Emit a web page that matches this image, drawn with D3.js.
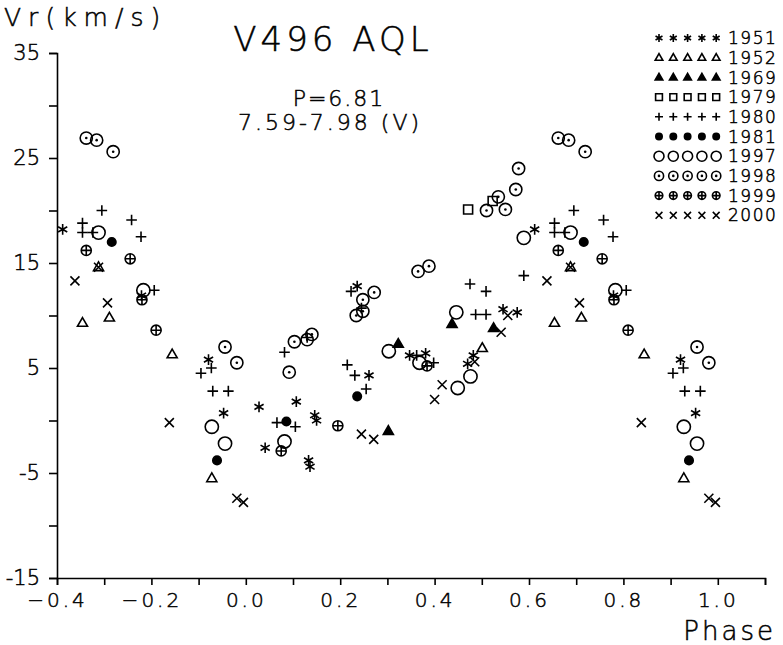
<!DOCTYPE html>
<html>
<head>
<meta charset="utf-8">
<script src="https://cdn.jsdelivr.net/npm/d3@7"></script>
<style>
  body { margin: 0; background: #fff; }
  svg { display: block; font-family: "DejaVu Sans", sans-serif; }
  text { font-weight: 200; fill: #000; stroke: #000; stroke-width: 0.5px; }
  .axis path, .axis line { stroke: #000; stroke-width: 1.6; }
</style>
</head>
<body>
<svg width="783" height="645"></svg>
<script>
var obs1951 = [[0.612,18.2],[0.779,11.9],[0.921,5.8],[0.953,0.7],[0.028,1.3],[0.041,-2.6],
  [0.107,1.8],[0.146,0.5],[0.150,0.0],[0.133,-3.8],[0.136,-4.4],[0.236,12.8],[0.261,4.3],
  [0.347,6.2],[0.381,6.4],[0.470,5.4],[0.482,6.2],[0.545,10.6],[0.575,10.3]];
var obs1952 = [[0.654,9.3],[0.688,14.6],[0.711,9.8],[0.844,6.3],[0.928,-5.5],[0.501,6.9]];
var obs1969 = [[0.302,-1.0],[0.323,7.3],[0.437,9.2],[0.525,8.8]];
var obs1979 = [[0.471,20.1],[0.523,20.9]];
var obs1980 = [[0.695,20.0],[0.654,18.8],[0.654,17.9],[0.676,17.9],[0.758,19.1],[0.778,17.5],
  [0.806,12.4],[0.905,4.5],[0.927,5.0],[0.930,2.8],[0.963,2.8],[0.066,-0.2],[0.082,6.5],
  [0.105,-0.6],[0.130,7.9],[0.215,5.3],[0.223,12.3],[0.231,4.3],[0.245,10.7],[0.255,3.0],
  [0.362,6.2],[0.398,5.5],[0.475,13.0],[0.487,10.1],[0.509,10.1],[0.509,12.3],[0.589,13.8]];
var obs1981 = [[0.716,17.0],[0.939,-3.8],[0.086,-0.1],[0.236,2.3]];
var obs1997 = [[0.688,17.9],[0.783,12.4],[0.928,-0.6],[0.956,-2.2],[0.082,-2.0],[0.303,6.6],
  [0.368,5.5],[0.446,10.3],[0.449,3.1],[0.476,4.2],[0.589,17.4]];
var obs1998 = [[0.662,26.9],[0.684,26.7],[0.719,25.6],[0.956,7.0],[0.981,5.5],[0.092,4.6],
  [0.103,7.5],[0.130,7.7],[0.140,8.2],[0.234,10.0],[0.248,10.4],[0.248,11.5],[0.272,12.2],
  [0.365,14.2],[0.388,14.7],[0.510,20.0],[0.535,21.3],[0.550,20.1],[0.572,22.0],[0.578,24.0]];
var obs1999 = [[0.662,16.2],[0.755,15.4],[0.780,11.5],[0.810,8.6],[0.075,-2.9],[0.195,-0.5],[0.384,5.2]];
var obs2000 = [[0.638,13.3],[0.688,14.6],[0.707,11.2],[0.838,-0.2],[0.981,-7.4],[0.995,-7.8],
  [0.245,-1.3],[0.271,-1.8],[0.400,2.0],[0.416,3.4],[0.485,5.6],[0.541,8.4],[0.555,10.0]];

var years   = ["1951","1952","1969","1979","1980","1981","1997","1998","1999","2000"];
var symbols = ["star","triangle","triangleFill","square","plus","dot","circle","circleDot","circlePlus","cross"];
var series  = [obs1951,obs1952,obs1969,obs1979,obs1980,obs1981,obs1997,obs1998,obs1999,obs2000];

var xTicks = d3.range(-4, 12).map(function(d) { return d / 10; });
var yTicks = d3.range(-15, 36, 5);
var yLabels = [-15, -5, 5, 15, 25, 35];

var svg = d3.select("svg");
var x = d3.scaleLinear().domain([-0.4, 1.1]).range([57, 765]),
    y = d3.scaleLinear().domain([-15, 35]).range([578, 53]);

// marker path, centred on 0,0, s = half size
function shape(type, s) {
  var p = d3.path(), k;
  switch (type) {
    case "star":
      for (k = 0; k < 3; k++) {
        var a = Math.PI / 2 + k * Math.PI / 3;
        p.moveTo(s * Math.cos(a), s * Math.sin(a));
        p.lineTo(-s * Math.cos(a), -s * Math.sin(a));
      }
      break;
    case "plus":
      p.moveTo(-s, 0); p.lineTo(s, 0); p.moveTo(0, -s); p.lineTo(0, s);
      break;
    case "cross":
      k = s * 0.85;
      p.moveTo(-k, -k); p.lineTo(k, k); p.moveTo(-k, k); p.lineTo(k, -k);
      break;
    case "triangle": case "triangleFill":
      p.moveTo(0, -s); p.lineTo(s * 0.95, s * 0.65); p.lineTo(-s * 0.95, s * 0.65); p.closePath();
      break;
    case "square":
      k = s * 0.85;
      p.rect(-k, -k, 2 * k, 2 * k);
      break;
    case "dot":
      p.arc(0, 0, s * 0.8, 0, 2 * Math.PI);
      break;
    case "circle":
      p.moveTo(s * 1.25, 0); p.arc(0, 0, s * 1.25, 0, 2 * Math.PI);
      break;
    case "circleDot":
      p.moveTo(s * 1.15, 0); p.arc(0, 0, s * 1.15, 0, 2 * Math.PI);
      break;
    case "circlePlus":
      p.moveTo(s * 0.95, 0); p.arc(0, 0, s * 0.95, 0, 2 * Math.PI);
      p.moveTo(-s * 0.95, 0); p.lineTo(s * 0.95, 0); p.moveTo(0, -s * 0.95); p.lineTo(0, s * 0.95);
      break;
  }
  return p.toString();
}

function drawMarker(g, type, s) {
  var filled = type === "dot" || type === "triangleFill";
  g.append("path")
    .attr("d", shape(type, s))
    .attr("fill", filled ? "#000" : "none")
    .attr("stroke", "#000")
    .attr("stroke-width", 1.6);
  if (type === "circleDot")
    g.append("circle").attr("r", 1.3).attr("fill", "#000");
}

// axes
svg.append("g").attr("class", "axis")
  .attr("transform", "translate(0,578)")
  .call(d3.axisBottom(x).tickValues(xTicks).tickSize(7).tickSizeOuter(7)
    .tickFormat(function(d) { var i = Math.round(d * 10); return i % 2 === 0 ? d3.format(".1f")(d) : ""; }))
  .attr("font-family", null).attr("font-size", "20px")
  .call(function(g) { g.selectAll("text").attr("dy", "0.95em").attr("letter-spacing", "3px"); });

svg.append("g").attr("class", "axis")
  .attr("transform", "translate(57,0)")
  .call(d3.axisLeft(y).tickValues(yTicks).tickSize(8).tickSizeOuter(8)
    .tickFormat(function(d) { return yLabels.indexOf(d) >= 0 ? d : ""; }))
  .attr("font-family", null).attr("font-size", "21px")
  .call(function(g) { g.selectAll("text").attr("x", -17); });

// points, phases >= 0.6 repeated one cycle earlier
series.forEach(function(pts, i) {
  var all = [];
  pts.forEach(function(d) {
    all.push(d);
    if (d[0] - 1 >= -0.4) all.push([d[0] - 1, d[1]]);
  });
  svg.append("g").selectAll("g")
    .data(all).enter().append("g")
    .attr("transform", function(d) { return "translate(" + x(d[0]) + "," + y(d[1]) + ")"; })
    .each(function() { drawMarker(d3.select(this), symbols[i], 5.3); });
});

// legend
var leg = svg.append("g").selectAll("g")
  .data(years).enter().append("g")
  .attr("transform", function(d, i) { return "translate(0," + (38 + i * 19.7) + ")"; });
leg.each(function(d, i) {
  var g = d3.select(this);
  for (var k = 0; k < 5; k++)
    drawMarker(g.append("g").attr("transform", "translate(" + (659 + k * 14.3) + ",0)"), symbols[i], 4);
});
leg.append("text")
  .attr("x", 728).attr("dy", "0.36em")
  .attr("font-size", "17px").attr("letter-spacing", "1.5px")
  .text(function(d) { return d; });

// titles
svg.append("text").attr("x", 4).attr("y", 26).attr("font-size", "25px")
  .attr("letter-spacing", "7px").text("Vr(km/s)");
svg.append("text").attr("x", 333).attr("y", 51).attr("text-anchor", "middle")
  .attr("font-size", "34px").attr("letter-spacing", "4px").text("V496 AQL");
svg.append("text").attr("x", 339).attr("y", 106).attr("text-anchor", "middle")
  .attr("font-size", "22px").attr("letter-spacing", "2px").text("P=6.81");
svg.append("text").attr("x", 330).attr("y", 130).attr("text-anchor", "middle")
  .attr("font-size", "22px").attr("letter-spacing", "3px").text("7.59-7.98 (V)");
svg.append("text").attr("x", 776).attr("y", 640).attr("text-anchor", "end")
  .attr("font-size", "26px").attr("letter-spacing", "3px").text("Phase");
</script>
</body>
</html>
